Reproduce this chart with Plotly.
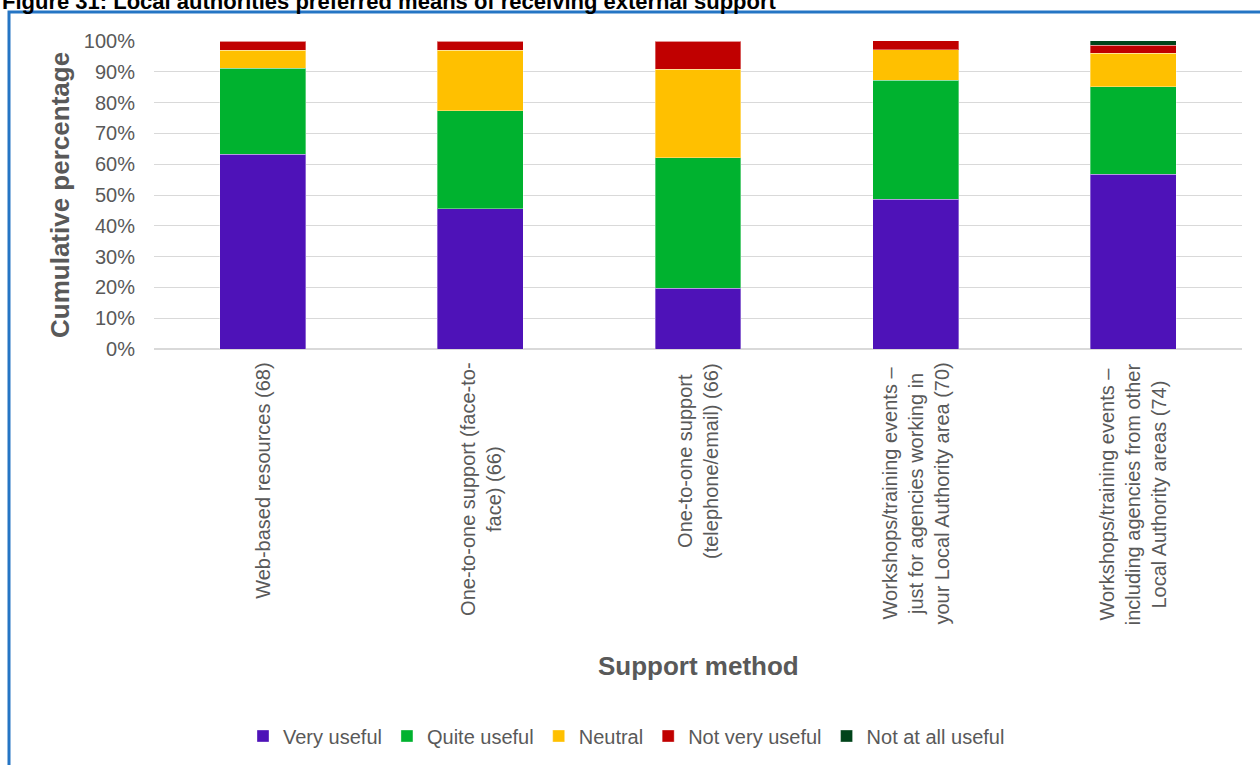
import plotly.graph_objects as go

categories = [
    "Web-based resources (68)",
    "One-to-one support (face-to-<br>face) (66)",
    "One-to-one support<br>(telephone/email) (66)",
    "Workshops/training events –<br>just for agencies working in<br>your Local Authority area (70)",
    "Workshops/training events –<br>including agencies from other<br>Local Authority areas (74)",
]
cat_keys = ["web", "f2f", "tel", "ws_own", "ws_other"]

very_useful = [63.2, 45.5, 19.7, 48.6, 56.8]
quite_useful = [27.9, 31.8, 42.4, 38.6, 28.4]
neutral = [5.9, 19.7, 28.8, 10.0, 10.8]
not_very_useful = [2.9, 3.0, 9.1, 2.9, 2.7]
not_at_all_useful = [0.0, 0.0, 0.0, 0.0, 1.4]

y_ticks = [0, 10, 20, 30, 40, 50, 60, 70, 80, 90, 100]
y_tick_labels = ["0%", "10%", "20%", "30%", "40%", "50%", "60%", "70%", "80%", "90%", "100%"]

series = [
    ("Very useful", very_useful, "#4E12B8"),
    ("Quite useful", quite_useful, "#00B22F"),
    ("Neutral", neutral, "#FFC000"),
    ("Not very useful", not_very_useful, "#C00000"),
    ("Not at all useful", not_at_all_useful, "#00441A"),
]

FONT = "Liberation Sans, Arial, sans-serif"
GREY = "#595959"

# plot area in pixels
L, R, T, B = 154, 18, 41, 415
W, H = 1260, 765
pw, ph = W - L - R, H - T - B


def px_x(x):
    return (x - L) / pw


def px_y(y):
    return (H - B - y) / ph


fig = go.Figure()
for name, vals, col in series:
    fig.add_trace(go.Bar(
        x=cat_keys, y=vals, name=name,
        marker=dict(color=col, line=dict(color="rgba(255,255,255,0.35)", width=1)),
        hoverinfo="skip",
    ))

fig.update_layout(
    barmode="stack",
    bargap=0.605,
    width=W, height=H,
    margin=dict(l=L, r=R, t=T, b=B),
    paper_bgcolor="white",
    plot_bgcolor="white",
    font=dict(family=FONT, size=20, color=GREY),
    showlegend=True,
    legend=dict(
        orientation="h",
        x=px_x(243), xanchor="left",
        y=px_y(736), yanchor="middle",
        font=dict(size=20, color=GREY),
        traceorder="normal",
        itemwidth=30,
    ),
    xaxis=dict(
        showticklabels=False,
        showgrid=False,
        showline=True, linecolor="#d9d9d9", linewidth=1,
        fixedrange=True,
    ),
    yaxis=dict(
        range=[0, 100],
        tickmode="array",
        tickvals=y_ticks,
        ticktext=y_tick_labels,
        showgrid=True, gridcolor="#d9d9d9", gridwidth=1,
        zeroline=True, zerolinecolor="#d9d9d9",
        ticklabelstandoff=18,
        tickfont=dict(size=20, color=GREY),
    ),
)

# rotated category labels with centred lines
for key, lab in zip(cat_keys, categories):
    fig.add_annotation(
        x=key, xref="x", y=0, yref="paper",
        text=lab, textangle=-90, align="center",
        xanchor="center", yanchor="top", yshift=-12,
        showarrow=False, font=dict(size=20, color=GREY),
    )

fig.add_annotation(
    text="<b>Cumulative percentage</b>", textangle=-90,
    x=px_x(60), y=0.5, xref="paper", yref="paper",
    xanchor="center", yanchor="middle", showarrow=False,
    font=dict(size=26, color=GREY),
)
fig.add_annotation(
    text="<b>Support method</b>",
    x=px_x(698), y=px_y(668), xref="paper", yref="paper",
    xanchor="center", yanchor="middle", showarrow=False,
    font=dict(size=26, color=GREY),
)
fig.add_annotation(
    text="<b>Figure 31: Local authorities preferred means of receiving external support</b>",
    x=px_x(0), y=px_y(16), xref="paper", yref="paper",
    xanchor="left", yanchor="bottom", showarrow=False,
    font=dict(size=22, color="black"),
)

# blue frame round the chart
fig.add_shape(
    type="rect", xref="paper", yref="paper",
    x0=px_x(9), x1=px_x(1270), y0=px_y(775), y1=px_y(12),
    line=dict(color="#2575C4", width=3), layer="below",
)

# page has a default 8px body margin; drop it so the chart sits at the corner
fig.write_html(
    "out.html",
    config={"displayModeBar": False},
    post_script="document.body.style.margin='0';",
)
